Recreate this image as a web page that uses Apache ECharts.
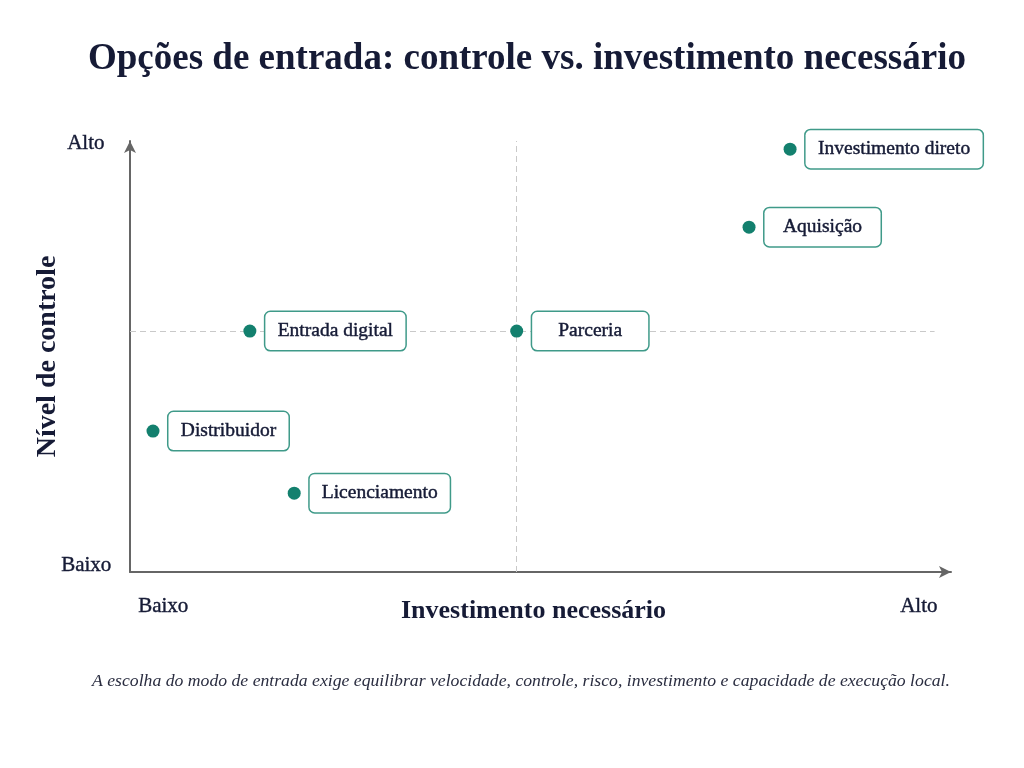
<!DOCTYPE html>
<html><head><meta charset="utf-8">
<script src="https://cdn.jsdelivr.net/npm/echarts@6/dist/echarts.min.js"></script>
<style>html,body{margin:0;padding:0;background:#fff}#c{width:1024px;height:768px}</style>
</head><body><div id="c"></div>
<script>
const titleText = 'Opções de entrada: controle vs. investimento necessário';
const xAxisName = 'Investimento necessário';
const yAxisName = 'Nível de controle';
const tickLabels = ['Baixo', 'Alto'];
const caption = 'A escolha do modo de entrada exige equilibrar velocidade, controle, risco, investimento e capacidade de execução local.';
const options = ['Investimento direto', 'Aquisição', 'Entrada digital', 'Parceria', 'Distribuidor', 'Licenciamento'];
const investment = [80.4, 75.4, 14.6, 47.1, 2.8, 20.0];
const control = [98.1, 80.0, 55.9, 55.9, 32.7, 18.3];
const midInvestment = 47.1;
const midControl = 55.9;

const SERIF = '"Liberation Serif", "DejaVu Serif", serif';
const NAVY = '#161b36';
const TEAL = '#13806e';
const LABEL_SIZE = 19.5;
const ctx = document.createElement('canvas').getContext('2d');
ctx.font = LABEL_SIZE + 'px ' + SERIF;

const chart = echarts.init(document.getElementById('c'));
const data = options.map((n, i) => {
  const w = Math.max(Math.ceil(ctx.measureText(n).width), 92);
  return {
    name: n, value: [investment[i], control[i]],
    label: { rich: { t: { width: w, align: 'center', fontFamily: SERIF, fontSize: LABEL_SIZE, color: NAVY,
      textBorderColor: NAVY, textBorderWidth: 0.45 } } }
  };
});

const tickStyle = (t) => ({ text: t, font: '21px ' + SERIF, fill: NAVY, stroke: NAVY, lineWidth: 0.4 });

chart.setOption({
  backgroundColor: '#ffffff',
  animation: false,
  title: {
    text: titleText, left: 83, top: 36,
    textStyle: { fontFamily: SERIF, fontSize: 37, fontWeight: 'bold', color: NAVY }
  },
  grid: { left: 130, right: 73, top: 141, bottom: 196 },
  xAxis: {
    type: 'value', min: 0, max: 100,
    axisLine: { show: true, lineStyle: { color: '#666', width: 2 }, symbol: ['none', 'arrow'], symbolSize: [9, 12] },
    axisTick: { show: false }, axisLabel: { show: false }, splitLine: { show: false },
    name: xAxisName, nameLocation: 'middle', nameGap: 26,
    nameTextStyle: { fontFamily: SERIF, fontSize: 26, fontWeight: 'bold', color: NAVY, padding: [0, 14, 0, 0] }
  },
  yAxis: {
    type: 'value', min: 0, max: 100,
    axisLine: { show: true, lineStyle: { color: '#666', width: 2 }, symbol: ['none', 'arrow'], symbolSize: [9, 12] },
    axisTick: { show: false }, axisLabel: { show: false }, splitLine: { show: false },
    name: yAxisName, nameLocation: 'middle', nameGap: 68, nameRotate: 90,
    nameTextStyle: { fontFamily: SERIF, fontSize: 28, fontWeight: 'bold', color: NAVY }
  },
  graphic: [
    { type: 'text', left: 67, top: 133, style: tickStyle(tickLabels[1]) },
    { type: 'text', left: 61, top: 555, style: tickStyle(tickLabels[0]) },
    { type: 'text', left: 138, top: 596, style: tickStyle(tickLabels[0]) },
    { type: 'text', left: 900, top: 596, style: tickStyle(tickLabels[1]) },
    { type: 'text', left: 92, top: 672, style: { text: caption, font: 'italic 17.7px ' + SERIF, fill: '#2a2d40' } }
  ],
  series: [{
    type: 'scatter',
    data: data,
    symbolSize: 13,
    itemStyle: { color: TEAL, opacity: 1 },
    z: 5,
    emphasis: { disabled: true },
    label: {
      show: true, position: 'right', distance: 9,
      formatter: '{t|{b}}',
      backgroundColor: '#fff', borderColor: '#3f9a89', borderWidth: 1.5, borderRadius: 5,
      padding: [9, 12, 9, 12]
    },
    markLine: {
      silent: true, symbol: 'none', label: { show: false },
      lineStyle: { color: '#c9c9c9', type: [6, 4], width: 1 },
      data: [
        [{ coord: [midInvestment, 0] }, { coord: [midInvestment, 100] }],
        [{ coord: [0, midControl] }, { coord: [98, midControl] }]
      ]
    }
  }]
});
</script></body></html>
